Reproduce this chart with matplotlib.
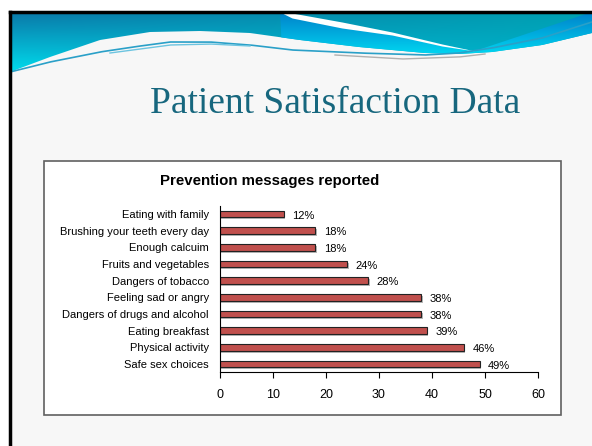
import numpy as np
import matplotlib
matplotlib.use("Agg")
import matplotlib.pyplot as plt
import matplotlib.patheffects as pe
from matplotlib.patches import Rectangle, Polygon

# data (top to bottom as shown)
categories = ["Eating with family", "Brushing your teeth every day", "Enough calcuim",
              "Fruits and vegetables", "Dangers of tobacco", "Feeling sad or angry",
              "Dangers of drugs and alcohol", "Eating breakfast", "Physical activity",
              "Safe sex choices"]
percent = [12, 18, 18, 24, 28, 38, 38, 39, 46, 49]
x_ticks = [0, 10, 20, 30, 40, 50, 60]

W, H = 592, 446
fig = plt.figure(figsize=(W / 100, H / 100), dpi=100)
fig.patch.set_facecolor("white")

# slide background layer in pixel coordinates
bg = fig.add_axes([0, 0, 1, 1])
bg.set_xlim(0, W)
bg.set_ylim(H, 0)
bg.axis("off")
bg.add_patch(Rectangle((10, 12), W - 10, H - 12, facecolor="#f7f7f7", edgecolor="none"))


def curve(xp, yp, n=400):
    x = np.linspace(xp[0], xp[-1], n)
    return x, np.interp(x, xp, yp)


def gradient(c_top, c_bot, n=60):
    t = np.linspace(0, 1, n)[:, None, None]
    return np.array(c_top)[None, None, :] * (1 - t) + np.array(c_bot)[None, None, :] * t


# header wave, lower edge
ex, ey = curve([10, 50, 100, 150, 200, 250, 300, 359, 425, 459, 492, 542, 592],
               [72, 57, 40, 32, 31, 33, 40, 47, 53, 54, 52, 45, 33])
wave = Polygon([(10, 12), (W, 12)] + list(zip(ex[::-1], ey[::-1])),
               closed=True, facecolor="none", edgecolor="none")
bg.add_patch(wave)
left = gradient([0.04, 0.47, 0.66], [0.0, 0.88, 0.94])
right = gradient([0.0, 0.63, 0.70], [0.0, 0.70, 0.80])
mix = np.linspace(0, 1, 200)[None, :, None]
img = left * (1 - mix) + right * mix
im = bg.imshow(img, extent=(10, W, 75, 12), aspect="auto", zorder=1)
im.set_clip_path(wave)

# blue band under the swoosh on the right
sx_pts = [280, 292, 342, 392, 442, 475]
top_pts = [12, 13, 22, 32, 44, 51]
bot_pts = [12, 18, 28, 35, 46, 51]
band_x, band_bot = curve(sx_pts, bot_pts)
lower = Polygon(list(zip(band_x, band_bot)) + [(592, 12), (592, 33)]
                + [(x, y) for x, y in zip(ex[::-1], ey[::-1]) if x >= 280],
                closed=True, facecolor="none", edgecolor="none")
bg.add_patch(lower)
im2 = bg.imshow(gradient([0.0, 0.52, 0.80], [0.0, 0.85, 0.95]), extent=(280, W, 56, 14),
                aspect="auto", zorder=1.5)
im2.set_clip_path(lower)

# white swoosh
band_x, band_top = curve(sx_pts, top_pts)
bg.fill_between(band_x, band_top, band_bot, color="white", zorder=2, lw=0)

# thin accent lines
lx, ly = curve([10, 50, 100, 133, 170, 210, 250, 292, 359, 425, 459, 492, 542, 592],
               [72, 62, 52, 47, 42, 42, 45, 50, 53, 55, 53, 48, 38, 22])
bg.plot(lx, ly, color="#2aa0c8", lw=1.2, zorder=3)
hx, hy = curve([110, 170, 210, 250], [53, 45, 44, 46])
bg.plot(hx, hy, color="#6cc4e0", lw=1.0, zorder=3)
gx, gy = curve([335, 402, 459, 485], [55, 59, 57, 54])
bg.plot(gx, gy, color="#b0b0b0", lw=1.0, zorder=3)

# slide border
bg.plot([10, 10], [12, H], color="black", lw=2.5, zorder=4)
bg.plot([10, W], [12, 12], color="black", lw=2.5, zorder=4)

# slide title
bg.text(335, 104, "Patient Satisfaction Data", ha="center", va="center",
        fontsize=27, color="#17677e", family="Liberation Serif")

# chart box
bg.add_patch(Rectangle((44, 160.5), 517, 254, facecolor="white",
                       edgecolor="#606060", lw=1.2, zorder=4))
bg.text(270, 181, "Prevention messages reported", ha="center", va="center",
        fontsize=10.8, fontweight="bold", family="Liberation Sans", zorder=5)

# bar chart axes
ax = fig.add_axes([220 / W, 1 - 372.3 / H, (538 - 220) / W, (372.3 - 205.6) / H])
ax.set_zorder(5)
ax.patch.set_alpha(0)
pos = np.arange(len(categories))
bars = ax.barh(pos, percent, height=0.4, color="#c0504d", edgecolor="#222222",
               linewidth=0.8)
for b in bars:
    b.set_path_effects([pe.SimplePatchShadow(offset=(1, -1.5), shadow_rgbFace="#999999", alpha=0.7),
                        pe.Normal()])
for p, v in zip(pos, percent):
    ax.text(v + 1.6, p + 0.1, f"{v}%", va="center", ha="left", fontsize=8,
            family="Liberation Sans")

ax.set_ylim(len(categories) - 0.5, -0.5)
ax.set_xlim(0, 60)
ax.set_xticks(x_ticks)
ax.set_yticks(pos)
ax.set_yticklabels(categories, fontsize=8, family="Liberation Sans")
ax.tick_params(axis="y", length=0, pad=8)
ax.tick_params(axis="x", length=4, width=0.8, direction="out", labelsize=9, pad=8)
for t in ax.get_xticklabels():
    t.set_family("Liberation Sans")
ax.spines["top"].set_visible(False)
ax.spines["right"].set_visible(False)
ax.spines["left"].set_linewidth(0.8)
ax.spines["bottom"].set_linewidth(0.8)

fig.savefig("out.png", dpi=100)
